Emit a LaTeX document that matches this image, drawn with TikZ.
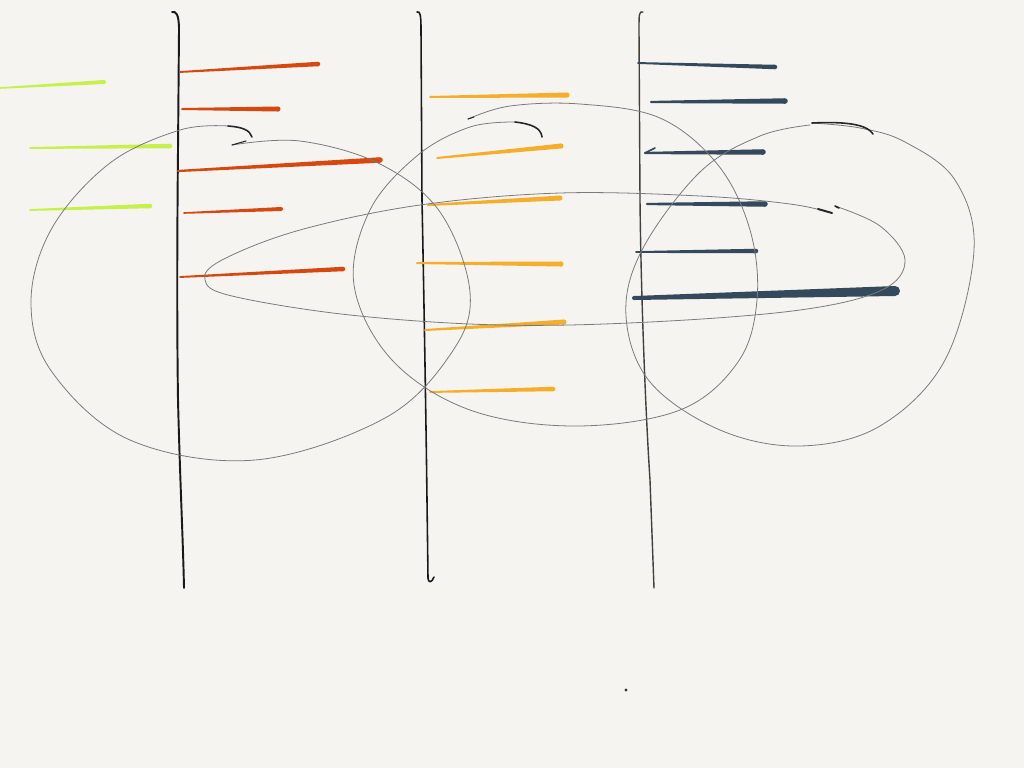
\documentclass[tikz,border=0pt]{standalone}
\definecolor{paper}{HTML}{F5F4F0}
\definecolor{rust}{HTML}{D5480F}
\definecolor{lime}{HTML}{C6F04A}
\definecolor{amber}{HTML}{F4AE2B}
\definecolor{navy}{HTML}{344A5C}
\definecolor{pencil}{HTML}{7A7A7A}
\newcommand\brush[6]{%
  \fill[#1] (#2,{#3-#6/5}) -- (#4,{#5-#6/2}) -- (#4,{#5+#6/2}) -- (#2,{#3+#6/5}) -- cycle;
  \fill[#1] (#4,#5) circle[radius=#6/2];
  \fill[#1] (#2,#3) circle[radius=#6/5];}
\tikzset{
  pole/.style={draw=black!90, line width=1.1pt, line cap=round, line join=round},
  loop/.style={draw=pencil, line width=0.45pt, line cap=round},
  hook/.style={draw=black!85, line width=0.9pt, line cap=round},
}
\begin{document}
\begin{tikzpicture}[x=0.02cm,y=-0.02cm]
\useasboundingbox (0,0) rectangle (1024,768);
\fill[paper] (0,0) rectangle (1024,768);

% vertical poles
\draw[pole] (172,12) .. controls (176,11) and (179,14) .. (179,30)
  -- (178,150) .. controls (177,250) and (177,330) .. (178,400)
  .. controls (180,480) and (183,540) .. (184,588);
\draw[pole, line width=0.9pt] (417,12) .. controls (420,11) and (421,14) .. (421,30)
  -- (422,200) .. controls (424,300) and (426,420) .. (427,500)
  -- (428,578) .. controls (428,583) and (432,583) .. (434,577);
\draw[pole, line width=0.8pt, draw=black!75] (643,12) .. controls (639,11) and (639,14) .. (639,30)
  -- (640,200) .. controls (641,300) and (646,420) .. (650,480)
  -- (654,588);

% green strokes
\brush{lime}{0}{88}{104}{82}{4}
\brush{lime}{30}{148}{170}{146}{4.5}
\brush{lime}{30}{210}{150}{206}{4.5}

% red strokes
\brush{rust}{180}{72}{318}{64}{4.5}
\brush{rust}{182}{109}{278}{109}{5}
\brush{rust}{178}{171}{380}{160}{5.5}
\brush{rust}{184}{213}{281}{209}{4}
\brush{rust}{180}{277}{343}{269}{4.5}

% orange strokes
\brush{amber}{430}{97}{567}{95}{5}
\brush{amber}{437}{158}{561}{146}{5}
\brush{amber}{428}{205}{560}{198}{5}
\brush{amber}{417}{263}{561}{264}{5}
\brush{amber}{425}{330}{564}{322}{5}
\brush{amber}{430}{392}{553}{389}{4.5}

% navy strokes
\brush{navy}{638}{63}{775}{67}{4.5}
\brush{navy}{651}{102}{785}{101}{5.5}
\brush{navy}{645}{153}{763}{152}{5.5}
\draw[navy, line width=1pt, line cap=round] (645,153) -- (655,148);
\brush{navy}{647}{204}{765}{204}{5.5}
\brush{navy}{636}{252}{756}{251}{4.5}
\brush{navy}{634}{298}{895}{291}{10}

% left loop
\draw[loop] plot[smooth, tension=0.6] coordinates {(232,145) (300,141) (380,164) (440,212) (470,292) (452,352) (385,418) (255,460) (130,440) (52,372) (31,302) (52,228) (110,163) (180,130) (228,126)};
\draw[hook] (228,126) .. controls (242,127) and (250,130) .. (252,137);
\draw[hook, line width=0.6pt] (232,145) -- (246,141);

% middle loop
\draw[loop] plot[smooth, tension=0.6] coordinates {(468,119) (510,106) (580,104) (660,118) (718,165) (750,230) (757,300) (738,362) (680,410) (575,426) (470,410) (392,360) (354,285) (370,210) (418,155) (470,127) (515,122)};
\draw[hook] (515,122) .. controls (532,124) and (541,128) .. (542,137);
\draw[hook, line width=0.6pt] (468,119) -- (474,117);

% right loop
\draw[loop] plot[smooth, tension=0.6] coordinates {(810,125) (760,136) (700,172) (642,250) (626,316) (650,382) (720,430) (800,446) (880,426) (945,360) (974,250) (955,180) (905,142) (860,128) (812,123)};
\draw[hook] (812,123) .. controls (852,121) and (868,126) .. (873,134);

% long horizontal loop
\draw[loop] plot[smooth, tension=0.6] coordinates {(835,206) (880,226) (905,260) (882,290) (800,310) (650,322) (500,325) (350,315) (232,296) (205,280) (222,260) (300,230) (420,205) (560,193) (700,196) (790,204) (832,213)};
\draw[hook, line width=1.1pt] (818,209) -- (832,213);
\draw[hook, line width=0.9pt] (835,206) -- (839,208);

% stray dot
\fill[black!80] (626,690) circle[radius=1.6];
\end{tikzpicture}
\end{document}
